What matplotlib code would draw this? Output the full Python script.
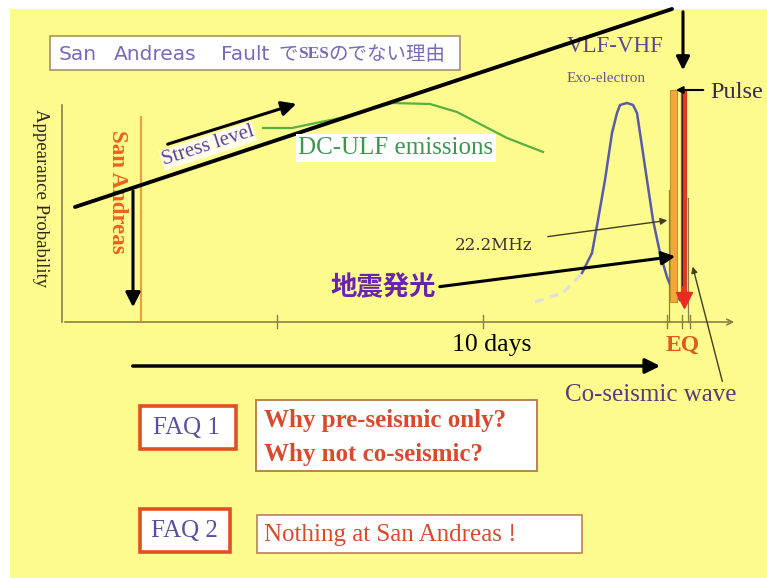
import matplotlib.pyplot as plt
from matplotlib.patches import Rectangle

# slide is drawn in its own pixel frame (0..767 x 0..578, y downward)
W, H = 767, 578

# stress level line
stress_x = [75, 672]
stress_y = [207, 9]

# DC-ULF emission curve (partly hidden under the stress line)
dculf_x = [263, 292, 340, 393, 430, 457, 480, 507, 543]
dculf_y = [128, 128, 118, 103, 104, 112, 124, 138, 152]

# VLF-VHF bell curve and its faint dashed tail
vlf_x = [582, 592, 598, 605, 612, 617, 620, 627, 633, 637, 640, 647, 653, 660, 667, 673, 680]
vlf_y = [273, 253, 220, 180, 133, 113, 105, 103, 105, 113, 133, 180, 220, 253, 277, 292, 300]
tail_x = [535, 563, 582]
tail_y = [302, 293, 273]

# x axis ticks
tick_x = [277, 483, 667, 682, 690]

# title pieces: (text, x, family, size, weight)
title_parts = [
    ('San', 59, 'DejaVu Sans', 14.5, 'normal'),
    ('Andreas', 114, 'DejaVu Sans', 14.5, 'normal'),
    ('Fault', 221, 'DejaVu Sans', 14.5, 'normal'),
    ('で', 278, 'Noto Sans CJK JP', 14, 'normal'),
    ('SES', 298, 'Liberation Serif', 12.5, 'bold'),
    ('のでない理由', 328, 'Noto Sans CJK JP', 14, 'normal'),
]

yellow = '#fdfa8e'
serif = 'Liberation Serif'
jp = ['Noto Sans CJK JP', 'DejaVu Sans']

fig = plt.figure(figsize=(W / 100, H / 100), dpi=100)
fig.patch.set_facecolor('white')
ax = fig.add_axes([0, 0, 1, 1])
ax.set_xlim(0, W)
ax.set_ylim(H, 0)
ax.axis('off')

ax.add_patch(Rectangle((10, 9), W - 10, H - 9, facecolor=yellow, edgecolor='none', zorder=0))

# title box
ax.add_patch(Rectangle((50, 36), 410, 34, facecolor='white', edgecolor='#a89070', lw=1.2, zorder=1))
for txt, tx, fam, fs, fw in title_parts:
    ax.text(tx, 54, txt, family=fam, fontsize=fs, fontweight=fw,
            color='#7a68b8', va='center', ha='left', zorder=2)

# axes of the sketch
axis_col = '#8a8044'
ax.plot([62, 62], [105, 322], color=axis_col, lw=1.2, zorder=2)
ax.annotate('', xy=(737, 322), xytext=(62, 322),
            arrowprops=dict(arrowstyle='->', color=axis_col, lw=1.2), zorder=2)
for tx in tick_x:
    ax.plot([tx, tx], [315, 328], color=axis_col, lw=1.0, zorder=2)
ax.plot([669, 669], [190, 322], color=axis_col, lw=0.9, zorder=2)
ax.plot([688, 688], [198, 322], color=axis_col, lw=0.9, zorder=2)

ax.text(40, 198, 'Appearance Probability', family=serif, fontsize=13.5, color='#302818',
        rotation=270, ha='center', va='center')

# San Andreas marker
ax.plot([141, 141], [117, 320], color='#e8a040', lw=1.6, zorder=2)
ax.text(117, 192, 'San Andreas', family=serif, fontsize=16.5, fontweight='bold', color='#e8641e',
        rotation=270, ha='center', va='center')

# green DC-ULF curve, then stress line over it
ax.plot(dculf_x, dculf_y, color='#58b040', lw=1.6, zorder=3)
ax.plot(stress_x, stress_y, color='black', lw=2.8, solid_capstyle='round', zorder=4)

ax.annotate('', xy=(133, 310), xytext=(133, 188),
            arrowprops=dict(arrowstyle='-|>', color='black', lw=2.2, mutation_scale=22), zorder=5)
ax.annotate('', xy=(299, 103), xytext=(165, 145),
            arrowprops=dict(arrowstyle='-|>', color='black', lw=2.2, mutation_scale=22), zorder=5)

ax.text(208, 146, 'Stress level', family=serif, fontsize=15, color='#6040a0',
        rotation=18, rotation_mode='anchor', ha='center', va='center', zorder=5,
        bbox=dict(facecolor='white', edgecolor='none', pad=0.5, alpha=0.8))

ax.text(396, 148, 'DC-ULF emissions', family=serif, fontsize=18, color='#3c9650',
        ha='center', va='center', zorder=5,
        bbox=dict(facecolor='white', edgecolor='none', pad=2))

# VLF-VHF bell curve
ax.plot(tail_x, tail_y, color='#e0e0d8', lw=2.2, ls=(0, (3, 2)), zorder=3)
ax.plot(vlf_x, vlf_y, color='#5a5aaa', lw=1.8, zorder=3)

ax.text(567, 46, 'VLF-VHF', family=serif, fontsize=16.5, color='#5a4a8a', ha='left', va='center')
ax.text(567, 79, 'Exo-electron', family=serif, fontsize=11, color='#6a5a8a', ha='left', va='center')

ax.annotate('', xy=(683, 73), xytext=(683, 9),
            arrowprops=dict(arrowstyle='-|>', color='black', lw=2.2, mutation_scale=20), zorder=5)

# pulse bars
ax.add_patch(Rectangle((670, 90), 7, 212, facecolor='#f4a838', edgecolor='#c89030', lw=0.8, zorder=4))
ax.plot([684, 684], [90, 298], color='#e03a20', lw=4.5, solid_capstyle='butt', zorder=5)
ax.plot([684], [300], marker='v', markersize=11, color='#e82a20', zorder=5)
ax.plot([682, 682], [90, 285], color='#402020', lw=0.8, zorder=6)
ax.annotate('', xy=(673, 90), xytext=(706, 90),
            arrowprops=dict(arrowstyle='-|>', color='black', lw=1.5, mutation_scale=10), zorder=6)
ax.text(710, 92, 'Pulse', family=serif, fontsize=17.5, color='#3a2a50', ha='left', va='center')

# 22.2MHz
ax.text(455, 245, '22.2MHz', family='DejaVu Serif', fontsize=12, color='#3a3040', ha='left', va='center')
ax.annotate('', xy=(670, 220), xytext=(545, 237),
            arrowprops=dict(arrowstyle='-|>', color='#404020', lw=1.0, mutation_scale=10), zorder=5)

# 地震発光
ax.text(330, 288, '地震発光', family=jp, fontsize=19, fontweight='bold', color='#6a22b0',
        ha='left', va='center')
ax.annotate('', xy=(678, 256), xytext=(437, 287),
            arrowprops=dict(arrowstyle='-|>', color='black', lw=2.2, mutation_scale=20), zorder=5)

# co-seismic wave pointer
ax.annotate('', xy=(692, 264), xytext=(723, 384),
            arrowprops=dict(arrowstyle='-|>', color='#404020', lw=1.0, mutation_scale=9), zorder=5)
ax.text(651, 395, 'Co-seismic wave', family=serif, fontsize=18, color='#5a3a78',
        ha='center', va='center')

ax.text(492, 345, '10 days', family=serif, fontsize=18.5, color='black', ha='center', va='center')
ax.text(683, 345, 'EQ', family=serif, fontsize=17, fontweight='bold', color='#e05a20',
        ha='center', va='center')

ax.annotate('', xy=(663, 366), xytext=(130, 366),
            arrowprops=dict(arrowstyle='-|>', color='black', lw=2.5, mutation_scale=22), zorder=5)

# FAQ boxes
faq_edge = '#e05020'
ans_edge = '#b88450'
ans_col = '#d84a30'
faq_col = '#5a50a0'

ax.add_patch(Rectangle((140, 406), 96, 43, facecolor='white', edgecolor=faq_edge, lw=2.6, zorder=2))
ax.text(186, 428, 'FAQ 1', family=serif, fontsize=18, color=faq_col, ha='center', va='center')
ax.add_patch(Rectangle((256, 400), 281, 71, facecolor='white', edgecolor=ans_edge, lw=1.4, zorder=2))
ax.text(264, 421, 'Why pre-seismic only?', family=serif, fontsize=18, fontweight='bold',
        color=ans_col, ha='left', va='center')
ax.text(264, 454, 'Why not co-seismic?', family=serif, fontsize=18, fontweight='bold',
        color=ans_col, ha='left', va='center')

ax.add_patch(Rectangle((140, 509), 90, 43, facecolor='white', edgecolor=faq_edge, lw=2.6, zorder=2))
ax.text(184, 531, 'FAQ 2', family=serif, fontsize=18, color=faq_col, ha='center', va='center')
ax.add_patch(Rectangle((257, 515), 325, 38, facecolor='white', edgecolor=ans_edge, lw=1.2, zorder=2))
ax.text(264, 535, 'Nothing at San Andreas !', family=serif, fontsize=18,
        color=ans_col, ha='left', va='center')

fig.savefig('out.png', dpi=100, facecolor=fig.get_facecolor())
